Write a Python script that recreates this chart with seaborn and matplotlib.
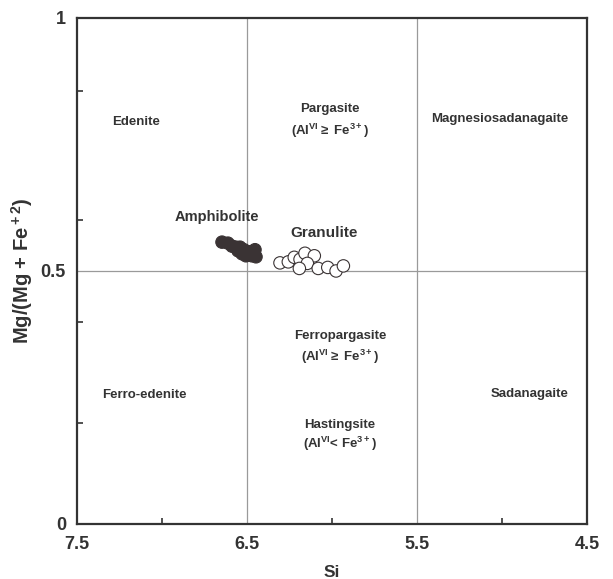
import matplotlib
matplotlib.use("Agg")
import matplotlib.pyplot as plt
import seaborn as sns
import pandas as pd

# Amphibolite samples (filled)
amph_si = [6.647, 6.612, 6.588, 6.565, 6.541, 6.553, 6.518, 6.500, 6.482, 6.471, 6.453, 6.447, 6.506, 6.529]
amph_mg = [0.557, 0.555, 0.549, 0.547, 0.547, 0.540, 0.542, 0.536, 0.538, 0.530, 0.542, 0.528, 0.530, 0.534]

# Granulite samples (open)
gran_si = [6.306, 6.257, 6.222, 6.188, 6.159, 6.104, 6.145, 6.192, 6.081, 6.025, 5.976, 5.933]
gran_mg = [0.516, 0.518, 0.527, 0.523, 0.535, 0.530, 0.515, 0.505, 0.505, 0.507, 0.500, 0.510]

x_ticks = [7.5, 6.5, 5.5, 4.5]
y_ticks = [0, 0.5, 1]
x_minor = [7.0, 6.0, 5.0]
y_minor = [0.2, 0.4, 0.6, 0.855]

fields = [
    ("Edenite", 7.153, 0.794),
    ("Pargasite", 6.012, 0.820),
    (r"(Al$^{\rm VI}$$\geq$ Fe$^{\rm 3+}$)", 6.012, 0.776),
    ("Magnesiosadanagaite", 5.012, 0.800),
    ("Ferropargasite", 5.953, 0.372),
    (r"(Al$^{\rm VI}$$\geq$ Fe$^{\rm 3+}$)", 5.953, 0.330),
    ("Ferro-edenite", 7.106, 0.255),
    ("Sadanagaite", 4.835, 0.257),
    ("Hastingsite", 5.953, 0.196),
    (r"(Al$^{\rm VI}$< Fe$^{\rm 3+}$)", 5.953, 0.158),
]

df = pd.DataFrame({
    "Si": amph_si + gran_si,
    "Mg": amph_mg + gran_mg,
    "rock": ["Amphibolite"] * len(amph_si) + ["Granulite"] * len(gran_si),
})

sns.set_style("ticks")
plt.rcParams["font.family"] = ["Liberation Sans", "DejaVu Sans"]
plt.rcParams["font.weight"] = "bold"
plt.rcParams["mathtext.fontset"] = "custom"
plt.rcParams["mathtext.rm"] = "Liberation Sans:bold"
plt.rcParams["mathtext.it"] = "Liberation Sans:bold"
plt.rcParams["mathtext.default"] = "rm"

ink = "#333333"
fig = plt.figure(figsize=(6.13, 5.79), dpi=100)
ax = fig.add_axes([0.1256, 0.095, 0.832, 0.874])

# field boundaries
for xv in [6.5, 5.5]:
    ax.axvline(xv, color="#9a9a9a", lw=0.9, zorder=1)
ax.axhline(0.5, color="#9a9a9a", lw=0.9, zorder=1)

sns.scatterplot(data=df, x="Si", y="Mg", hue="rock",
                palette={"Amphibolite": "#3a3334", "Granulite": "white"},
                edgecolor="#3a3334", linewidth=0.8, s=80, legend=False,
                ax=ax, zorder=3)

ax.set_xlim(7.5, 4.5)
ax.set_ylim(0, 1)
ax.set_xticks(x_ticks)
ax.set_xticklabels([str(v) for v in x_ticks])
ax.set_yticks(y_ticks)
ax.set_yticklabels(["0", "0.5", "1"])
ax.set_xticks(x_minor, minor=True)
ax.set_yticks(y_minor, minor=True)
ax.tick_params(axis="both", which="major", length=0, labelsize=13, colors=ink, pad=8)
ax.tick_params(axis="x", which="major", pad=9)
ax.tick_params(axis="both", which="minor", direction="in", length=4, width=1.2, color=ink)
for lbl in ax.get_xticklabels() + ax.get_yticklabels():
    lbl.set_fontweight("bold")

for sp in ax.spines.values():
    sp.set_visible(True)
    sp.set_color(ink)
    sp.set_linewidth(1.6)

ax.set_xlabel("Si", fontsize=12.5, fontweight="bold", color=ink, labelpad=8)
ax.set_ylabel(r"Mg/(Mg + Fe$^{\rm +2}$)", fontsize=14.5, fontweight="bold", color=ink, labelpad=4)

for txt, xv, yv in fields:
    ax.text(xv, yv, txt, ha="center", va="center", fontsize=9.5,
            fontweight="bold", color=ink)

ax.text(6.676, 0.607, "Amphibolite", ha="center", va="center", fontsize=10.5,
        fontweight="bold", color=ink)
ax.text(6.047, 0.575, "Granulite", ha="center", va="center", fontsize=11,
        fontweight="bold", color=ink)

fig.savefig("out.png", dpi=100, facecolor="white")
